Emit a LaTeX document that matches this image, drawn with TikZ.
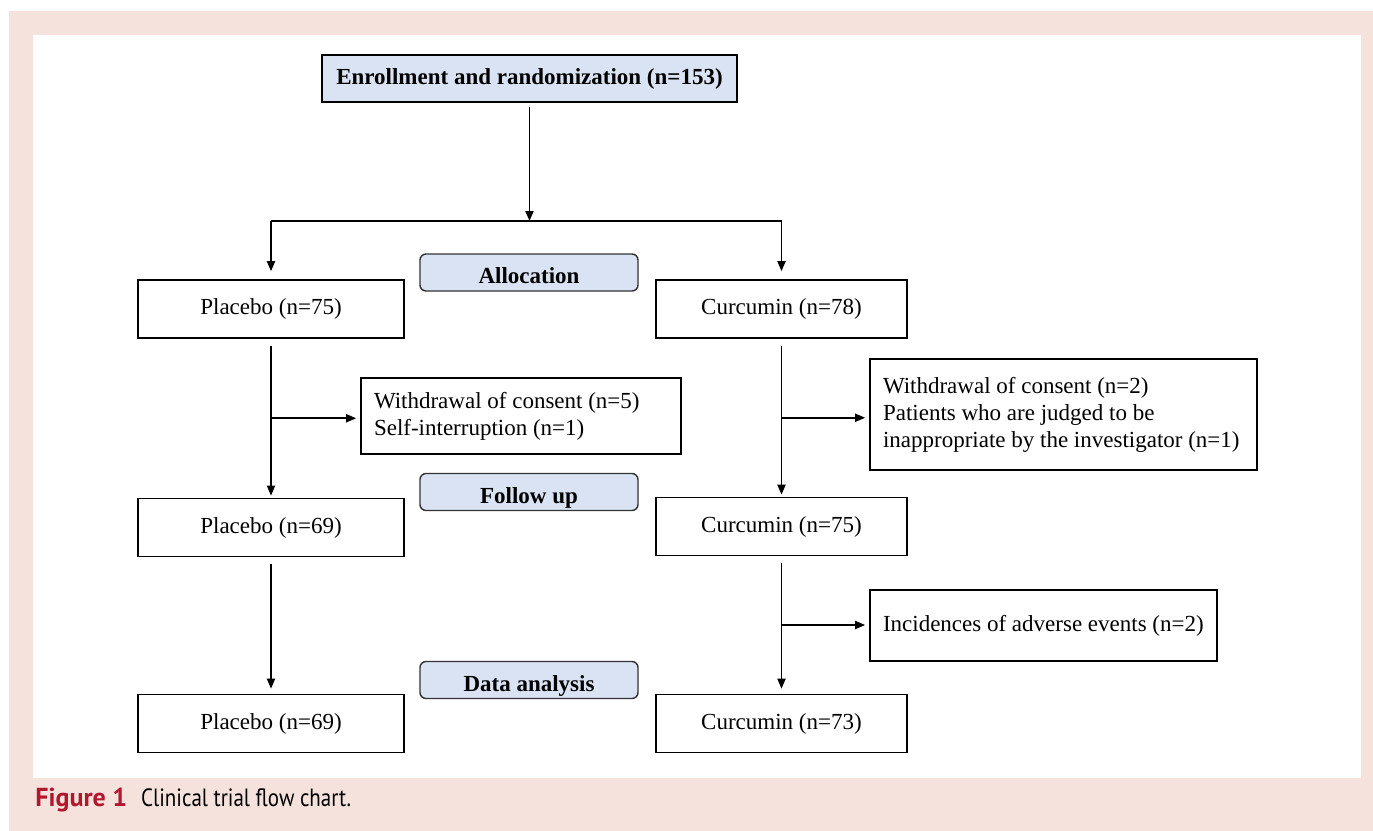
\documentclass[tikz,border=0pt]{standalone}
\usepackage{fontspec}
\setmainfont{Liberation Serif}
\newfontfamily\capfont{PT Sans}
\newfontfamily\capnarrow[FakeStretch=0.84]{PT Sans}
\usetikzlibrary{arrows.meta,calc}
\definecolor{framecolor}{HTML}{F6E2DC}
\definecolor{stagecolor}{HTML}{DAE3F3}
\definecolor{figcolor}{HTML}{B2172F}
\tikzset{
    group/.style={
        shape=rectangle,
        draw=black,
        fill=white,
        line width=0.8pt,
        align=center,
        minimum height=29pt,
        font=\fontsize{11.5}{13.5}\selectfont
    },
    placebo/.style={
        group,
        minimum width=133pt
    },
    curcumin/.style={
        group,
        minimum width=125.5pt
    },
    excluded/.style={
        group,
        align=left,
        inner xsep=0pt,
        text width=#1,
        execute at begin node={\leftskip=6.5pt\spaceskip=0pt\xspaceskip=0pt}
    },
    stage/.style={
        shape=rectangle,
        draw=black!80,
        fill=stagecolor,
        line width=0.7pt,
        rounded corners=3pt,
        minimum width=109pt,
        minimum height=18.5pt,
        text height=11pt,
        text depth=0pt,
        font=\bfseries\fontsize{11.5}{13.5}\selectfont
    },
    flow/.style={
        line width=0.9pt,
        -{Triangle[length=5pt,width=4pt]}
    },
    branch/.style={
        line width=0.9pt
    }
}

\begin{document}
\begin{tikzpicture}[x=0.5pt,y=-0.5pt]
    \useasboundingbox (0,0) rectangle (1373,831);
    \fill[framecolor] (9,11) rectangle (1373,831);
    \fill[white] (33,35) rectangle (1361,778);

    \node[group, fill=stagecolor, minimum width=207.5pt, minimum height=23.5pt,
          font=\bfseries\fontsize{11.5}{13.5}\selectfont] (enroll) at (529.5,78.5)
          {Enrollment and randomization (n=153)};

    \node[stage] (alloc) at (529,272.5) {Allocation};
    \node[stage] (follow) at (529,492) {Follow up};
    \node[stage] (analysis) at (529,680) {Data analysis};

    \node[placebo] (p75) at (271,309) {Placebo (n=75)};
    \node[curcumin] (c78) at (781.5,309) {Curcumin (n=78)};

    \node[excluded=160pt, minimum height=38pt] (wd5) at (521,416)
          {Withdrawal of consent (n=5)\\Self-interruption (n=1)};
    \node[excluded=193.5pt, minimum height=55.5pt] (wd2) at (1063.5,414.5)
          {Withdrawal of consent (n=2)\\Patients who are judged to be\\inappropriate by the investigator (n=1)};

    \node[placebo] (p69) at (271,527.5) {Placebo (n=69)};
    \node[curcumin] (c75) at (781.5,526.5) {Curcumin (n=75)};

    \node[excluded=173.5pt, minimum height=35.5pt] (ae) at (1043.5,625.5)
          {Incidences of adverse events (n=2)};

    \node[placebo] (p69b) at (271,723.5) {Placebo (n=69)};
    \node[curcumin] (c73) at (781.5,723.5) {Curcumin (n=73)};

    % randomization
    \coordinate (split) at (enroll.south |- 0,221);
    \coordinate (splitL) at (p75.north |- split);
    \coordinate (splitR) at (c78.north |- split);
    \draw[flow] ([yshift=-2pt]enroll.south) -- (split);
    \draw[branch] (splitL) -- (splitR);
    \draw[flow] (splitL) -- ([yshift=4pt]p75.north);
    \draw[flow] (splitR) -- ([yshift=4pt]c78.north);

    % placebo arm
    \draw[flow] ([yshift=-3.5pt]p75.south) -- ([yshift=1pt]p69.north);
    \draw[flow] ([yshift=-3.5pt]p69.south) -- ([yshift=2.5pt]p69b.north);
    \coordinate (pm) at ($(p75.south)!0.5!(p69.north)$);
    \draw[flow] (pm) -- ([xshift=-2pt]pm -| wd5.west);

    % curcumin arm
    \draw[flow] ([yshift=-3.5pt]c78.south) -- ([yshift=1pt]c75.north);
    \draw[flow] ([yshift=-3.5pt]c75.south) -- ([yshift=2.5pt]c73.north);
    \coordinate (cm1) at ($(c78.south)!0.5!(c75.north)$);
    \coordinate (cm2) at ($(c75.south)!0.5!(c73.north)$);
    \draw[flow] (cm1) -- ([xshift=-2pt]cm1 -| wd2.west);
    \draw[flow] (cm2) -- ([xshift=-2pt]cm2 -| ae.west);

    \node[anchor=base west, inner sep=0pt] (caption) at (35,806)
          {\capfont\fontsize{13}{15}\selectfont\textcolor{figcolor}{\textbf{Figure 1}}\hspace{7pt}%
           \capnarrow\fontsize{12.5}{15}\selectfont Clinical trial flow chart.};
\end{tikzpicture}
\end{document}
